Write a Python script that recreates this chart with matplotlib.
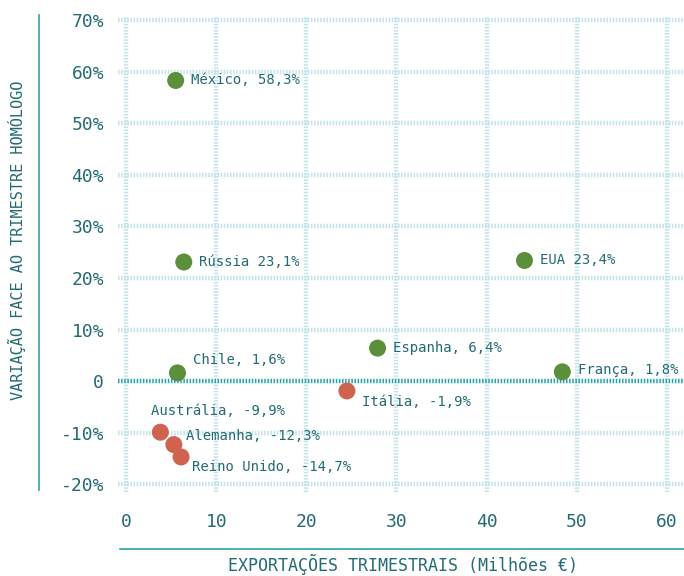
import matplotlib
matplotlib.use("Agg")
import matplotlib.pyplot as plt
from matplotlib.lines import Line2D

# data: (country, exports M€, yoy change %)
countries = ["México", "Rússia", "EUA", "Espanha", "Chile", "França",
             "Itália", "Austrália", "Alemanha", "Reino Unido"]
exports = [5.5, 6.4, 44.2, 27.9, 5.7, 48.4, 24.5, 3.8, 5.3, 6.1]
change = [58.3, 23.1, 23.4, 6.4, 1.6, 1.8, -1.9, -9.9, -12.3, -14.7]
labels = ["México, 58,3%", "Rússia 23,1%", "EUA 23,4%", "Espanha, 6,4%",
          "Chile, 1,6%", "França, 1,8%", "Itália, -1,9%", "Austrália, -9,9%",
          "Alemanha, -12,3%", "Reino Unido, -14,7%"]
# label offsets in points
offsets = [(11, 0), (11, 0), (11, 0), (11, 0), (11, 9), (11, 1),
           (11, -8), (-7, 15), (9, 6), (8, -7)]

green = "#5b8f3a"
red = "#cf6350"
teal = "#236b74"
grid_c = "#c4e4ea"
zero_c = "#2aa7ad"

plt.rcParams["font.family"] = ["DejaVu Sans Mono"]

fig = plt.figure(figsize=(6.84, 5.76), dpi=100)
ax = fig.add_axes([0.1725, 0.1458, 0.8275, 0.8264])

ax.set_xlim(-0.9, 61.9)
ax.set_ylim(-21.5, 70.8)

xt = [0, 10, 20, 30, 40, 50, 60]
yt = [-20, -10, 0, 10, 20, 30, 40, 50, 60, 70]
ax.set_xticks(xt)
ax.set_yticks(yt)
ax.set_xticklabels([str(v) for v in xt])
ax.set_yticklabels(["0" if v == 0 else f"{v}%" for v in yt])

for v in xt:
    ax.axvline(v, color=grid_c, lw=3.2, ls=(0, (0.35, 0.35)), zorder=0)
for v in yt:
    if v != 0:
        ax.axhline(v, color=grid_c, lw=3.2, ls=(0, (0.35, 0.35)), zorder=0)
ax.axhline(0, color=zero_c, lw=3.2, ls=(0, (0.35, 0.35)), zorder=1)

for s in ax.spines.values():
    s.set_visible(False)
ax.tick_params(length=0, colors=teal, labelsize=13)
ax.tick_params(axis="x", pad=15)
ax.tick_params(axis="y", pad=10)

cols = [green if c >= 0 else red for c in change]
ax.scatter(exports, change, s=150, c=cols, zorder=3, linewidths=0)

for x, y, t, off in zip(exports, change, labels, offsets):
    ax.annotate(t, (x, y), xytext=off, textcoords="offset points",
                ha="left", va="center", fontsize=10, color=teal, zorder=4)

# axis titles with accent lines
fig.add_artist(Line2D([39 / 684, 39 / 684], [1 - 15 / 576, 1 - 490 / 576],
                      color=zero_c, lw=1.2))
fig.add_artist(Line2D([120 / 684, 1.0], [1 - 549 / 576, 1 - 549 / 576],
                      color=zero_c, lw=1.2))
fig.text(17 / 684, 1 - 240 / 576, "VARIAÇÃO FACE AO TRIMESTRE HOMÓLOGO",
         rotation=90, ha="center", va="center", fontsize=11, color=teal)
fig.text(403 / 684, 1 - 564 / 576, "EXPORTAÇÕES TRIMESTRAIS (Milhões €)",
         ha="center", va="center", fontsize=12, color=teal)

fig.savefig("out.png", dpi=100)
